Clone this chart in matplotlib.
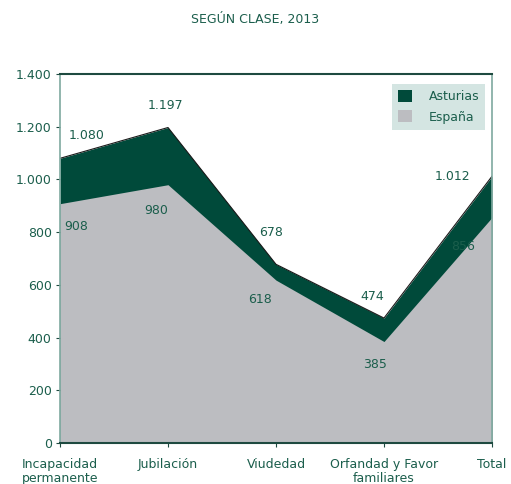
import matplotlib
matplotlib.use("Agg")
import matplotlib.pyplot as plt
from matplotlib.patches import Patch

categories = ["Incapacidad\npermanente", "Jubilación", "Viudedad", "Orfandad y Favor\nfamiliares", "Total"]
asturias = [1080, 1197, 678, 474, 1012]
espana = [908, 980, 618, 385, 856]
yticks = [0, 200, 400, 600, 800, 1000, 1200, 1400]
ytick_labels = ["0", "200", "400", "600", "800", "1.000", "1.200", "1.400"]
ast_labels = ["1.080", "1.197", "678", "474", "1.012"]
esp_labels = ["908", "980", "618", "385", "856"]

dark = "#004a3a"
gray = "#bcbdc1"
txt = "#1b5e4c"
light_spine = "#7fa9a0"

fig = plt.figure(figsize=(5.11, 4.84), dpi=100)
ax = fig.add_axes([60/511, 1-443/484, 432/511, 369/484])
x = list(range(len(categories)))
ax.fill_between(x, 0, asturias, color=dark, lw=0)
ax.plot(x, asturias, color="#1a1a1a", lw=0.8)
ax.fill_between(x, 0, espana, color=gray, lw=0)
ax.set_xlim(0, 4)
ax.set_ylim(0, 1400)
ax.set_yticks(yticks)
ax.set_yticklabels(ytick_labels)
ax.set_xticks(x)
ax.set_xticklabels(categories)
ax.tick_params(labelsize=9, length=3, width=0.8)
ax.tick_params(axis="x", colors="#1e4a40", labelcolor=txt, pad=8)
ax.tick_params(axis="y", colors="#1e4a40", labelcolor=txt, pad=3)
for lab in ax.get_xticklabels():
    lab.set_linespacing(1.05)
for s in ["top", "bottom"]:
    ax.spines[s].set_color("#1e4a40")
    ax.spines[s].set_linewidth(1.5)
for s in ["left", "right"]:
    ax.spines[s].set_color(light_spine)
    ax.spines[s].set_linewidth(1.2)

# data labels (offsets in data units from each point)
ast_off = [(0.25, 88), (-0.02, 82), (-0.05, 122), (-0.11, 80), (-0.37, 0)]
esp_off = [(0.15, -85), (-0.11, -96), (-0.15, -72), (-0.08, -89), (-0.27, -109)]
for i in range(len(categories)):
    ax.text(x[i] + ast_off[i][0], asturias[i] + ast_off[i][1], ast_labels[i],
            color=txt, fontsize=9, ha="center", va="center")
    ax.text(x[i] + esp_off[i][0], espana[i] + esp_off[i][1], esp_labels[i],
            color=txt, fontsize=9, ha="center", va="center")

handles = [Patch(facecolor=dark, edgecolor="none", label="Asturias"),
           Patch(facecolor=gray, edgecolor="none", label="España")]
leg = ax.legend(handles=handles, loc="upper right", bbox_to_anchor=(0.999, 0.99),
                frameon=True, fancybox=False, facecolor="#d4e5e2", edgecolor="none",
                fontsize=9, handlelength=1.1, handleheight=1.1, handletextpad=1.3,
                borderpad=0.5, labelspacing=0.55, borderaxespad=0.5)
leg.get_frame().set_alpha(1)
for t in leg.get_texts():
    t.set_color(txt)

fig.text(0.5, 1-20/484, "SEGÚN CLASE, 2013", ha="center", va="center", color=txt, fontsize=9)
fig.savefig("out.png", dpi=100)
